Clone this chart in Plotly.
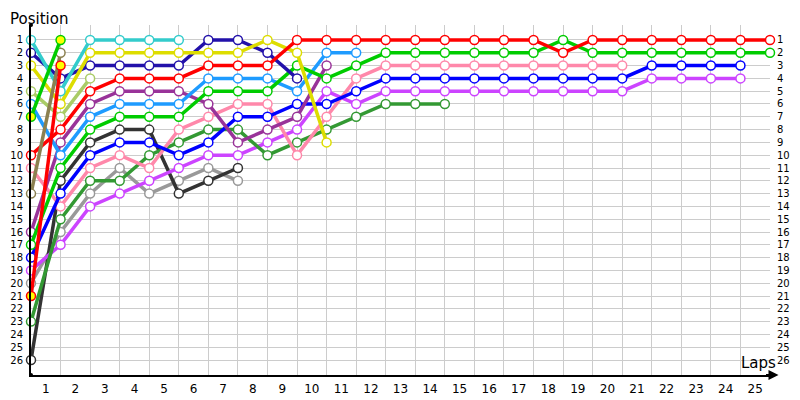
import plotly.graph_objects as go

# ---- data (positions per lap; index 0 = grid/start) ----
lap_labels = ["1", "2", "3", "4", "5", "6", "7", "8", "9", "10", "11", "12", "13",
              "14", "15", "16", "17", "18", "19", "20", "21", "22", "23", "24", "25"]
position_labels = ["1", "2", "3", "4", "5", "6", "7", "8", "9", "10", "11", "12", "13",
                   "14", "15", "16", "17", "18", "19", "20", "21", "22", "23", "24", "25", "26"]

red_main = [10, 8, 5, 4, 4, 4, 3, 3, 3, 1, 1, 1, 1, 1, 1, 1, 1, 1, 2, 1, 1, 1, 1, 1, 1, 1]
green_main = [17, 11, 8, 7, 7, 7, 5, 5, 5, 3, 4, 3, 2, 2, 2, 2, 2, 2, 1, 2, 2, 2, 2, 2, 2, 2]
blue = [18, 13, 10, 9, 9, 10, 9, 7, 7, 6, 6, 5, 4, 4, 4, 4, 4, 4, 4, 4, 4, 3, 3, 3, 3]
violet = [19, 17, 14, 13, 12, 11, 10, 10, 9, 8, 5, 6, 5, 5, 5, 5, 5, 5, 5, 5, 5, 4, 4, 4, 4]
pink = [11, 14, 11, 10, 11, 8, 7, 6, 6, 10, 7, 4, 3, 3, 3, 3, 3, 3, 3, 3, 3]
forest = [23, 15, 12, 12, 10, 9, 8, 8, 10, 9, 8, 7, 6, 6, 6]
sky = [6, 10, 7, 6, 6, 6, 4, 4, 4, 5, 2, 2]
purple = [16, 9, 6, 5, 5, 5, 6, 9, 8, 7, 3]
yellow = [3, 6, 2, 2, 2, 2, 2, 2, 1, 2, 9]
darkblue = [2, 4, 3, 3, 3, 3, 1, 1, 2, 4]
black = [26, 12, 9, 8, 8, 13, 12, 11]
gray = [20, 16, 13, 11, 13, 12, 11, 12]
cyan = [1, 5, 1, 1, 1, 1]
lightolive = [5, 7, 4]
olive = [13, 2]
green_yellow = [7, 1]
red_yellow = [21, 3]

series = [
    ("gray", gray, "#999999", "white"),
    ("black", black, "#333333", "white"),
    ("violet", violet, "#CC44FF", "white"),
    ("forest", forest, "#339933", "white"),
    ("pink", pink, "#FF88AA", "white"),
    ("blue", blue, "#0000FF", "white"),
    ("purple", purple, "#993399", "white"),
    ("sky", sky, "#1E9BFF", "white"),
    ("green", green_main, "#00CC00", "white"),
    ("lightolive", lightolive, "#AACC66", "white"),
    ("darkblue", darkblue, "#2211AA", "white"),
    ("yellow", yellow, "#DDDD00", "white"),
    ("cyan", cyan, "#33CCCC", "white"),
    ("red", red_main, "#FF0000", "white"),
    ("olive", olive, "#8B8050", "white"),
    ("red_yellow", red_yellow, "#FF0000", "#FFFF00"),
    ("green_yellow", green_yellow, "#00CC00", "#FFFF00"),
]

FONT = "DejaVu Sans"
fig = go.Figure()
for name, vals, col, fill in series:
    fig.add_trace(go.Scatter(
        x=list(range(len(vals))), y=vals, mode="lines+markers", name=name,
        line=dict(color=col, width=3.5),
        marker=dict(symbol="circle", size=9, color=fill, line=dict(color=col, width=1.5)),
        showlegend=False, hoverinfo="y", cliponaxis=False,
    ))

# invisible trace to activate secondary axes
fig.add_trace(go.Scatter(x=[0], y=[1], xaxis="x2", yaxis="y2", mode="markers",
                         marker=dict(opacity=0), showlegend=False, hoverinfo="skip"))

yr = [27.17, -0.17]
# page body has an 8px margin: figure is 792x392 so it fills the 800x400 window
fig.update_layout(
    width=792, height=392,
    margin=dict(l=23, r=30, t=17, b=25, autoexpand=False),
    paper_bgcolor="white", plot_bgcolor="white",
    font=dict(family=FONT, color="black"),
    xaxis=dict(range=[0, 25], tickvals=list(range(1, 25)), showticklabels=False,
               showgrid=True, gridcolor="#CCCCCC", gridwidth=1, zeroline=False,
               showline=True, linecolor="black", linewidth=2, ticks="", automargin=False),
    xaxis2=dict(range=[0, 25], overlaying="x", side="bottom", anchor="y",
                tickvals=[k + 0.5 for k in range(25)], ticktext=lap_labels,
                showgrid=False, zeroline=False, showline=False, automargin=False,
                ticks="outside", ticklen=3, tickcolor="rgba(0,0,0,0)",
                tickfont=dict(family=FONT, size=12, color="black")),
    yaxis=dict(range=yr, tickvals=list(range(1, 27)), ticktext=position_labels,
               showgrid=True, gridcolor="#CCCCCC", gridwidth=1, zeroline=False,
               showline=True, linecolor="black", linewidth=2, automargin=False,
               ticks="outside", ticklen=4, tickcolor="rgba(0,0,0,0)",
               tickfont=dict(family=FONT, size=10, color="black")),
    yaxis2=dict(range=yr, overlaying="y", side="right", anchor="x",
                tickvals=list(range(1, 27)), ticktext=position_labels,
                showgrid=False, zeroline=False, showline=False, automargin=False,
                ticks="outside", ticklen=4, tickcolor="rgba(0,0,0,0)",
                tickfont=dict(family=FONT, size=10, color="black")),
    annotations=[
        dict(text="Position", xref="paper", yref="paper", x=-0.030, y=1.045,
             xanchor="left", yanchor="top", showarrow=False, borderpad=0,
             font=dict(family=FONT, size=15, color="black")),
        dict(text="Laps", xref="paper", yref="paper", x=1.011, y=0.0,
             xanchor="right", yanchor="bottom", yshift=1, showarrow=False,
             font=dict(family=FONT, size=15, color="black")),
        dict(text="", xref="paper", yref="paper", x=1.0115, y=0.0,
             ax=-14, ay=0, showarrow=True, arrowhead=2, arrowsize=1,
             arrowwidth=2, arrowcolor="black"),
    ],
    shapes=[
        dict(type="circle", xref="paper", yref="paper", xsizemode="pixel", ysizemode="pixel",
             xanchor=0, yanchor=1.0, x0=-2, x1=2, y0=-2, y1=2,
             fillcolor="black", line=dict(width=0)),
        dict(type="circle", xref="paper", yref="paper", xsizemode="pixel", ysizemode="pixel",
             xanchor=0, yanchor=0.0, x0=-2, x1=2, y0=-2, y1=2,
             fillcolor="black", line=dict(width=0)),
    ],
)

fig.write_html("out.html")
